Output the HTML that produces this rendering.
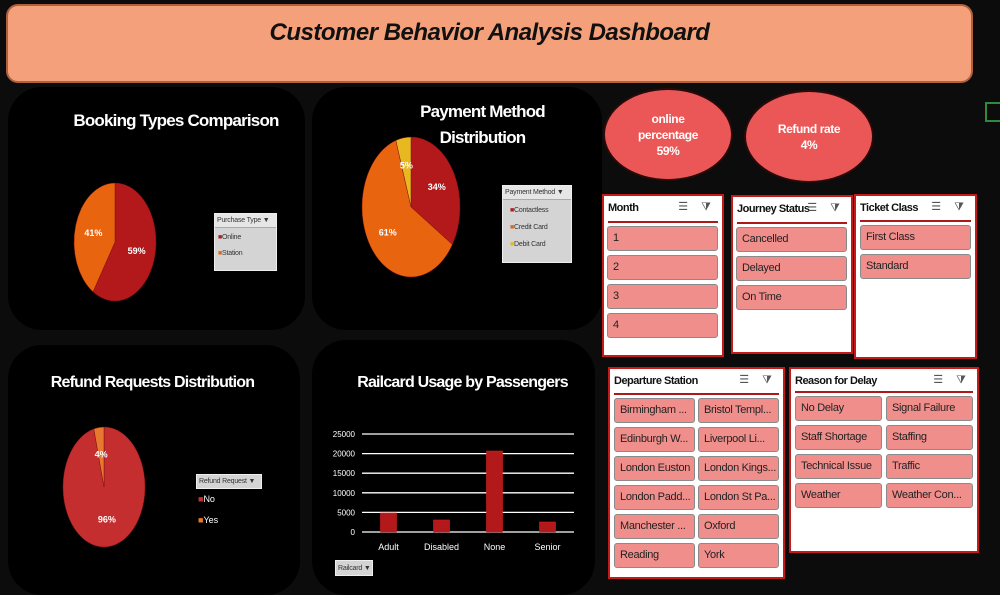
<!DOCTYPE html>
<html><head><meta charset="utf-8"><style>
*{box-sizing:border-box;margin:0;padding:0}
body{width:1000px;height:588px;background:#0c0c0c;position:relative;overflow:hidden;font-family:"Liberation Sans",sans-serif}
.abs{position:absolute}
.panel{position:absolute;background:#000;border-radius:34px}
.ptitle{position:absolute;color:#fff;font-weight:bold;font-size:17px;letter-spacing:-0.8px;text-align:center;line-height:26px}
.legend{position:absolute;background:#d4d4d4;border:1px solid #eee;font-size:7px;color:#333;white-space:nowrap;overflow:hidden;letter-spacing:-0.2px}
.oval{position:absolute;background:#eb5757;border:2px solid #2a0a0a;border-radius:50%;color:#fff;font-weight:bold;font-size:12px;text-align:center;display:flex;align-items:center;justify-content:center;letter-spacing:-0.4px;line-height:16px}
.slicer{position:absolute;background:#fff;border:2px solid #c41a1a}
.shead{position:absolute;left:4px;top:6px;font-size:11px;font-weight:bold;color:#111;letter-spacing:-0.5px;white-space:nowrap}
.sline{position:absolute;left:4px;right:4px;height:2px;background:#b01818}
.sicons{position:absolute;top:4px;right:6px;font-size:11px;color:#555;letter-spacing:5px}
.item{position:absolute;background:#f08e8c;border:1px solid #8a8a8a;border-radius:3px;font-size:11px;color:#222;padding-left:5px;line-height:23px;white-space:nowrap;overflow:hidden;letter-spacing:-0.3px}
</style></head><body>
<div class="abs" style="left:6px;top:4px;width:967px;height:79px;background:#f4a07a;border:2px solid #b0603a;border-radius:12px"></div>
<div class="abs" style="left:6px;top:19px;width:967px;text-align:center;font-size:24px;font-weight:bold;font-style:italic;color:#111;letter-spacing:-0.5px">Customer Behavior Analysis Dashboard</div>

<div class="panel" style="left:8px;top:87px;width:297px;height:243px"></div>
<div class="panel" style="left:312px;top:87px;width:290px;height:243px"></div>
<div class="panel" style="left:8px;top:345px;width:292px;height:250px"></div>
<div class="panel" style="left:312px;top:340px;width:283px;height:255px"></div>

<div class="ptitle" style="left:40px;top:108px;width:272px">Booking Types Comparison</div>
<div class="ptitle" style="left:400px;top:99px;width:165px">Payment Method Distribution</div>
<div class="ptitle" style="left:20px;top:370px;width:265px;font-size:16px">Refund Requests Distribution</div>
<div class="ptitle" style="left:345px;top:370px;width:235px;font-size:16px">Railcard Usage by Passengers</div>

<svg class="abs" id="charts" style="left:0;top:0" width="1000" height="588"></svg>

<div class="legend" style="left:214px;top:213px;width:63px;height:58px">
 <div style="border-bottom:1px solid #aaa;padding:3px 2px;background:#e6e6e6">Purchase Type ▼</div>
 <div style="padding:6px 3px 0"><span style="color:#b3191b">■</span>Online</div>
 <div style="padding:9px 3px 0"><span style="color:#e8640f">■</span>Station</div>
</div>
<div class="legend" style="left:502px;top:185px;width:70px;height:78px">
 <div style="border-bottom:1px solid #aaa;padding:3px 2px;background:#e6e6e6">Payment Method ▼</div>
 <div style="padding:7px 7px 0"><span style="color:#b3191b">■</span>Contactless</div>
 <div style="padding:10px 7px 0"><span style="color:#e8640f">■</span>Credit Card</div>
 <div style="padding:10px 7px 0"><span style="color:#e8b820">■</span>Debit Card</div>
</div>
<div class="legend" style="left:196px;top:474px;width:66px;height:15px;padding:3px 2px">Refund Request ▼</div>
<div class="abs" style="left:198px;top:494px;font-size:9px;color:#fff"><span style="color:#c8302f">■</span>No</div>
<div class="abs" style="left:198px;top:515px;font-size:9px;color:#fff"><span style="color:#e8782f">■</span>Yes</div>
<div class="legend" style="left:335px;top:560px;width:38px;height:16px;padding:4px 2px">Railcard ▼</div>

<div class="oval" style="left:603px;top:88px;width:130px;height:93px">online<br>percentage<br>59%</div>
<div class="oval" style="left:744px;top:90px;width:130px;height:93px">Refund rate<br>4%</div>
<div class="abs" style="left:985px;top:102px;width:20px;height:20px;border:2px solid #2e8b3e"></div>

<div id="slicers"></div>

<script>
// ---- chart data ----
const bookingCategories=["Online","Station"];
const bookingValues=[59,41];
const paymentCategories=["Contactless","Credit Card","Debit Card"];
const paymentValues=[34,61,5];
const refundCategories=["No","Yes"];
const refundValues=[96,4];
const railcardCategories=["Adult","Disabled","None","Senior"];
const railcardValues=[4850,3060,20660,2550];
const railcardTicks=[0,5000,10000,15000,20000,25000];

const NS="http://www.w3.org/2000/svg";
const svg=document.getElementById('charts');
function mk(tag,attrs){const e=document.createElementNS(NS,tag);for(const k in attrs)e.setAttribute(k,attrs[k]);svg.appendChild(e);return e;}

function pie(name,cx,cy,rx,ry,vals,cats,colors,lr,fs){
  const tot=vals.reduce((a,b)=>a+b,0);let a0=-Math.PI/2;
  vals.forEach((v,i)=>{
    const a1=a0+v/tot*2*Math.PI;
    const x0=cx+rx*Math.cos(a0),y0=cy+ry*Math.sin(a0),x1=cx+rx*Math.cos(a1),y1=cy+ry*Math.sin(a1);
    const large=(a1-a0)>Math.PI?1:0;
    const p=mk('path',{d:`M${cx},${cy} L${x0},${y0} A${rx},${ry} 0 ${large} 1 ${x1},${y1} Z`,fill:colors[i],stroke:'#7a1010','stroke-width':0.5});
    
    
    const am=(a0+a1)/2;
    const t=mk('text',{x:cx+rx*lr*Math.cos(am),y:cy+ry*lr*Math.sin(am)+3,fill:'#fff','font-size':fs,'font-weight':'bold','text-anchor':'middle','font-family':'Liberation Sans, sans-serif'});
    t.textContent=Math.round(v/tot*100)+'%';
    
    
    a0=a1;
  });
}
pie('booking-pie',115,242,41,59,bookingValues,bookingCategories,['#b3191b','#e8640f'],0.55,9);
pie('payment-pie',411,207,49,70,paymentValues,paymentCategories,['#b3191b','#e8640f','#e8b820'],0.6,9);
pie('refund-pie',104,487,41,60,refundValues,refundCategories,['#c42e2e','#e8782f'],0.55,9);

// bar chart
const x0=362,x1=574,yb=532,yt=434,ymax=25000;
const ys=v=>yb-(v/ymax)*(yb-yt);
const band=(x1-x0)/railcardCategories.length;
railcardTicks.forEach(t=>{
  const l=mk('line',{x1:x0,x2:x1,y1:ys(t),y2:ys(t),stroke:'#fff','stroke-width':1.3});
  
  
  const tx=mk('text',{x:355,y:ys(t)+3,fill:'#fff','font-size':8,'text-anchor':'end','font-family':'Liberation Sans, sans-serif'});
  tx.textContent=t;
  
  
});
railcardCategories.forEach((c,i)=>{
  const cx=x0+band*(i+0.5);
  const r=mk('rect',{x:cx-8,y:ys(railcardValues[i]),width:16,height:yb-ys(railcardValues[i]),fill:'#b3191b',stroke:'#d02020','stroke-width':0.6});
  
  
  const t=mk('text',{x:cx,y:550,fill:'#fff','font-size':9,'text-anchor':'middle','font-family':'Liberation Sans, sans-serif'});
  t.textContent=c;
  
  
});

// slicers
const slicerHost=document.getElementById('slicers');
function slicer(name,title,L,T,W,H,items,cols,ix,iw,iy,ih,step,colStep){
  const s=document.createElement('div');s.className='slicer';
  s.style.cssText=`left:${L}px;top:${T}px;width:${W}px;height:${H}px`;
  
  
  const h=document.createElement('div');h.className='shead';h.textContent=title;
  
  
  s.appendChild(h);
  const ic=document.createElement('div');ic.className='sicons';ic.textContent='☰ ⧩';
  
  
  s.appendChild(ic);
  const ln=document.createElement('div');ln.className='sline';ln.style.top=(iy-T-7)+'px';
  s.appendChild(ln);
  items.forEach((t,i)=>{
    const col=i%cols,row=Math.floor(i/cols);
    const b=document.createElement('div');b.className='item';
    b.style.cssText=`left:${ix-L-2+col*colStep}px;top:${iy-T-2+row*step}px;width:${iw}px;height:${ih}px`;
    b.textContent=t;
    
    
    s.appendChild(b);
  });
  slicerHost.appendChild(s);
}
slicer('month-slicer','Month',602,194,122,163,['1','2','3','4'],1,607,111,226,25,29,0);
slicer('journey-status-slicer','Journey Status',731,195,122,159,['Cancelled','Delayed','On Time'],1,736,111,227,25,29,0);
slicer('ticket-class-slicer','Ticket Class',854,194,123,165,['First Class','Standard'],1,860,111,225,25,29,0);
slicer('departure-station-slicer','Departure Station',608,367,177,212,['Birmingham ...','Bristol Templ...','Edinburgh W...','Liverpool Li...','London Euston','London Kings...','London Padd...','London St Pa...','Manchester ...','Oxford','Reading','York'],2,614,81,398,25,29,84);
slicer('reason-for-delay-slicer','Reason for Delay',789,367,190,186,['No Delay','Signal Failure','Staff Shortage','Staffing','Technical Issue','Traffic','Weather','Weather Con...'],2,795,87,396,25,29,91);
</script>
</body></html>
